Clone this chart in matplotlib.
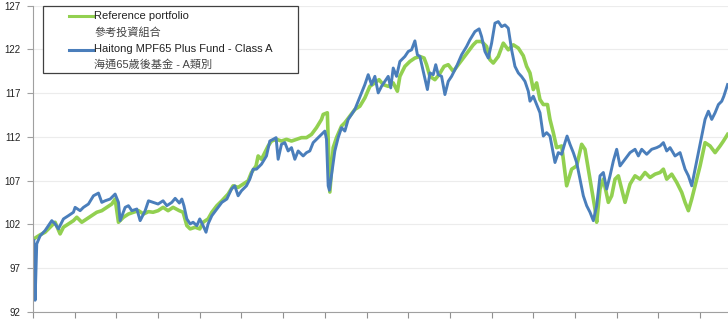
import matplotlib.pyplot as plt
from matplotlib.lines import Line2D
from matplotlib.patches import Rectangle

plt.rcParams['font.family'] = ['Liberation Sans', 'Noto Sans CJK TC', 'DejaVu Sans']

# x runs in months from the launch date, y is the rebased price (start = 100)
ref_x = [0.02, 0.17, 0.29, 0.41, 0.53, 0.65, 0.73, 0.85, 0.97, 1.05, 1.17, 1.29, 1.41, 1.53,
         1.65, 1.77, 1.89, 1.97, 2.05, 2.17, 2.29, 2.41, 2.53, 2.65, 2.77, 2.88, 3.00, 3.12,
         3.24, 3.36, 3.51, 3.60, 3.69, 3.77, 3.89, 4.00, 4.08, 4.20, 4.29, 4.41, 4.53, 4.68,
         4.80, 4.92, 5.04, 5.16, 5.24, 5.35, 5.40, 5.48, 5.56, 5.64, 5.72, 5.84, 5.96, 6.08,
         6.20, 6.32, 6.44, 6.56, 6.68, 6.80, 6.92, 6.96, 7.06, 7.12, 7.20, 7.28, 7.40, 7.48,
         7.60, 7.72, 7.84, 7.96, 8.08, 8.20, 8.30, 8.40, 8.52, 8.64, 8.74, 8.80, 8.92, 9.04,
         9.16, 9.28, 9.38, 9.44, 9.52, 9.64, 9.74, 9.86, 9.96, 10.08, 10.20, 10.32, 10.44,
         10.56, 10.64, 10.76, 10.88, 10.96, 11.04, 11.16, 11.28, 11.40, 11.52, 11.64, 11.76,
         11.84, 11.92, 12.00, 12.08, 12.16, 12.24, 12.34, 12.40, 12.48, 12.56, 12.68, 12.80,
         12.92, 13.04, 13.16, 13.24, 13.32, 13.40, 13.48, 13.52, 13.60, 13.68, 13.80, 13.88,
         13.96, 14.04, 14.20, 14.32, 14.44, 14.56, 14.68, 14.80, 14.92, 15.04, 15.12, 15.20,
         15.32, 15.44, 15.56, 15.64, 15.72, 15.80, 15.88, 16.00, 16.12, 16.24, 16.36, 16.48,
         16.56, 16.66]
ref_y = [100.35, 100.81, 101.11, 101.68, 102.25, 100.92, 101.68, 102.06, 102.43, 102.82,
         102.25, 102.63, 103.00, 103.39, 103.57, 103.95, 104.33, 104.90, 102.25, 102.82,
         103.19, 103.39, 103.57, 103.19, 103.46, 103.39, 103.57, 103.95, 103.57, 103.95,
         103.57, 103.39, 101.86, 101.49, 101.68, 101.49, 102.25, 102.63, 103.39, 104.14,
         104.70, 105.47, 106.41, 106.23, 106.60, 106.98, 107.93, 108.68, 109.82, 109.44,
         110.20, 110.96, 111.52, 111.72, 111.52, 111.72, 111.52, 111.72, 111.91, 111.91,
         112.28, 113.05, 113.99, 114.56, 114.75, 105.70, 110.77, 111.91, 113.23, 113.61,
         114.36, 115.13, 115.50, 116.45, 117.77, 118.16, 118.53, 117.97, 117.77, 118.16,
         117.21, 118.91, 120.05, 120.61, 121.00, 121.18, 121.00, 120.24, 118.91, 118.53,
         119.10, 120.05, 120.24, 119.48, 120.24, 121.00, 121.75, 122.51, 122.89, 122.89,
         122.32, 120.81, 120.43, 121.18, 122.70, 121.94, 122.51, 122.14, 121.26, 120.05,
         119.30, 117.40, 118.16, 116.26, 115.69, 115.69, 113.99, 112.48, 110.77, 110.96,
         106.41, 108.31, 108.68, 111.15, 110.58, 108.31, 106.04, 103.76, 102.25, 106.04,
         107.17, 104.52, 105.27, 107.17, 107.55, 104.52, 106.60, 107.55, 107.17, 107.93,
         107.36, 107.74, 107.93, 108.31, 107.17, 107.74, 106.80, 105.66, 104.52, 103.57,
         104.90, 106.41, 108.68, 111.34, 110.96, 110.20, 110.96, 111.52, 112.28]

fund_x = [0.02, 0.05, 0.09, 0.17, 0.29, 0.37, 0.45, 0.53, 0.61, 0.73, 0.85, 0.97, 1.01, 1.13,
          1.21, 1.33, 1.45, 1.57, 1.65, 1.73, 1.85, 1.97, 2.05, 2.09, 2.21, 2.29, 2.37, 2.49,
          2.57, 2.69, 2.77, 2.88, 3.00, 3.12, 3.21, 3.33, 3.41, 3.51, 3.57, 3.62, 3.69, 3.77,
          3.84, 3.93, 4.00, 4.08, 4.15, 4.20, 4.29, 4.41, 4.53, 4.65, 4.76, 4.84, 4.92, 5.00,
          5.12, 5.20, 5.28, 5.36, 5.48, 5.60, 5.68, 5.76, 5.83, 5.88, 5.96, 6.04, 6.12, 6.20,
          6.28, 6.36, 6.48, 6.56, 6.64, 6.72, 6.84, 6.96, 7.00, 7.04, 7.08, 7.11, 7.24, 7.32,
          7.40, 7.48, 7.56, 7.64, 7.72, 7.80, 7.88, 7.96, 8.04, 8.12, 8.20, 8.28, 8.36, 8.44,
          8.52, 8.58, 8.64, 8.72, 8.80, 8.92, 9.00, 9.08, 9.16, 9.22, 9.28, 9.36, 9.46, 9.52,
          9.60, 9.66, 9.72, 9.80, 9.88, 9.96, 10.04, 10.16, 10.28, 10.40, 10.48, 10.60, 10.70,
          10.76, 10.84, 10.92, 11.00, 11.08, 11.16, 11.24, 11.32, 11.40, 11.48, 11.56, 11.64,
          11.72, 11.80, 11.88, 11.92, 12.00, 12.08, 12.16, 12.24, 12.32, 12.40, 12.46, 12.52,
          12.60, 12.68, 12.76, 12.81, 12.88, 12.96, 13.04, 13.12, 13.20, 13.28, 13.36, 13.44,
          13.52, 13.60, 13.68, 13.76, 13.84, 13.92, 14.00, 14.08, 14.20, 14.32, 14.44, 14.52,
          14.60, 14.72, 14.84, 14.96, 15.04, 15.12, 15.20, 15.28, 15.40, 15.52, 15.64, 15.72,
          15.80, 15.88, 15.96, 16.04, 16.12, 16.20, 16.28, 16.36, 16.44, 16.52, 16.57, 16.66]
fund_y = [100.16, 93.34, 99.78, 100.69, 101.30, 101.86, 102.43, 102.06, 101.49, 102.63,
          103.00, 103.39, 103.95, 103.57, 103.95, 104.33, 105.27, 105.58, 104.52, 104.70,
          104.90, 105.47, 104.52, 102.43, 103.95, 104.14, 103.57, 103.76, 102.43, 103.57,
          104.70, 104.52, 104.33, 104.70, 104.14, 104.52, 104.98, 104.44, 104.90, 104.14,
          102.63, 102.06, 102.25, 101.86, 102.63, 101.86, 101.11, 102.06, 103.00, 103.76,
          104.52, 104.90, 106.04, 106.41, 105.27, 105.84, 106.41, 107.17, 108.31, 108.31,
          108.88, 109.82, 111.52, 111.72, 111.91, 109.44, 111.15, 111.34, 110.39, 110.77,
          109.44, 110.39, 109.82, 110.20, 110.39, 111.34, 111.91, 112.48, 112.66, 111.72,
          106.41, 105.90, 110.39, 111.91, 113.05, 112.66, 113.99, 114.56, 115.13, 116.07,
          117.02, 117.97, 119.10, 117.97, 118.91, 117.02, 117.77, 118.34, 118.91, 117.59,
          119.86, 118.91, 120.61, 121.18, 121.75, 121.94, 122.96, 121.37, 121.18, 119.48,
          117.40, 119.30, 119.10, 120.24, 119.10, 118.91, 116.83, 118.34, 118.91, 120.05,
          121.37, 122.32, 123.08, 124.02, 124.33, 123.45, 121.75, 121.00, 122.70, 124.98,
          125.16, 124.59, 124.78, 124.41, 121.94, 120.05, 119.30, 118.88, 118.34, 117.21,
          116.07, 116.64, 115.69, 114.75, 112.09, 112.48, 112.09, 110.58, 109.07, 110.20,
          110.01, 111.34, 112.09, 111.15, 110.20, 109.07, 107.17, 105.27, 104.14, 103.39,
          102.43, 104.14, 107.55, 107.93, 106.04, 107.55, 109.25, 110.58, 108.68, 109.44,
          110.20, 110.58, 109.82, 110.58, 110.01, 110.58, 110.77, 110.96, 111.34, 110.39,
          110.77, 109.82, 110.20, 108.31, 107.55, 106.41, 108.31, 110.20, 112.09, 114.00,
          114.93, 113.99, 114.75, 115.69, 116.07, 116.64, 117.97]

y_ticks = [92, 97, 102, 107, 112, 117, 122, 127]
legend_en = ['Reference portfolio', 'Haitong MPF65 Plus Fund - Class A']
legend_zh = ['參考投資組合', '海通65歲後基金 - A類別']
colors = ['#92D050', '#4A7EBB']

W, H = 728, 323


def px(x, y):
    # pixel position -> figure fraction
    return x / W, 1 - y / H


fig = plt.figure(figsize=(W / 100, H / 100), dpi=100)
ax = fig.add_axes([33 / W, 1 - 312 / H, (W - 33) / W, (312 - 5.5) / H])

ax.plot(ref_x, ref_y, color=colors[0], lw=2.6, solid_joinstyle='round')
ax.plot(fund_x, fund_y, color=colors[1], lw=2.1, solid_joinstyle='round')

ax.set_xlim(0, 16.67)
ax.set_ylim(92, 127)
ax.set_yticks(y_ticks)
ax.set_xticks(range(17))
ax.set_xticklabels([])
ax.grid(axis='y', color='#ececec', lw=0.8)
ax.set_axisbelow(True)

for side in ['top', 'right']:
    ax.spines[side].set_visible(False)
for side in ['left', 'bottom']:
    ax.spines[side].set_color('#a0a0a0')
    ax.spines[side].set_linewidth(0.8)
ax.tick_params(axis='y', length=4, width=0.8, color='#a0a0a0', labelsize=7, pad=5,
               labelcolor='#222222')
ax.tick_params(axis='x', length=4, width=0.8, color='#909090')

# legend box, two lines of text per series (English + Chinese)
fig.add_artist(Rectangle(px(43.3, 72.7), (297.7 - 43.3) / W, (72.7 - 5.7) / H,
                         transform=fig.transFigure, facecolor='white',
                         edgecolor='#404040', lw=0.9, zorder=5))
rows = [16, 32.3, 49.5, 64.5]
for i in range(2):
    y_en = rows[2 * i]
    y_zh = rows[2 * i + 1]
    x0, y0 = px(69.3, y_en)
    x1, _ = px(93.3, y_en)
    fig.add_artist(Line2D([x0, x1], [y0, y0], transform=fig.transFigure,
                          color=colors[i], lw=2.2, zorder=6))
    fig.text(*px(94.3, y_en), legend_en[i], fontsize=8, va='center', ha='left',
             color='#222222', zorder=6)
    fig.text(*px(94.3, y_zh), legend_zh[i], fontsize=8, va='center', ha='left',
             color='#444444', zorder=6)

fig.savefig('out.png', dpi=100)
